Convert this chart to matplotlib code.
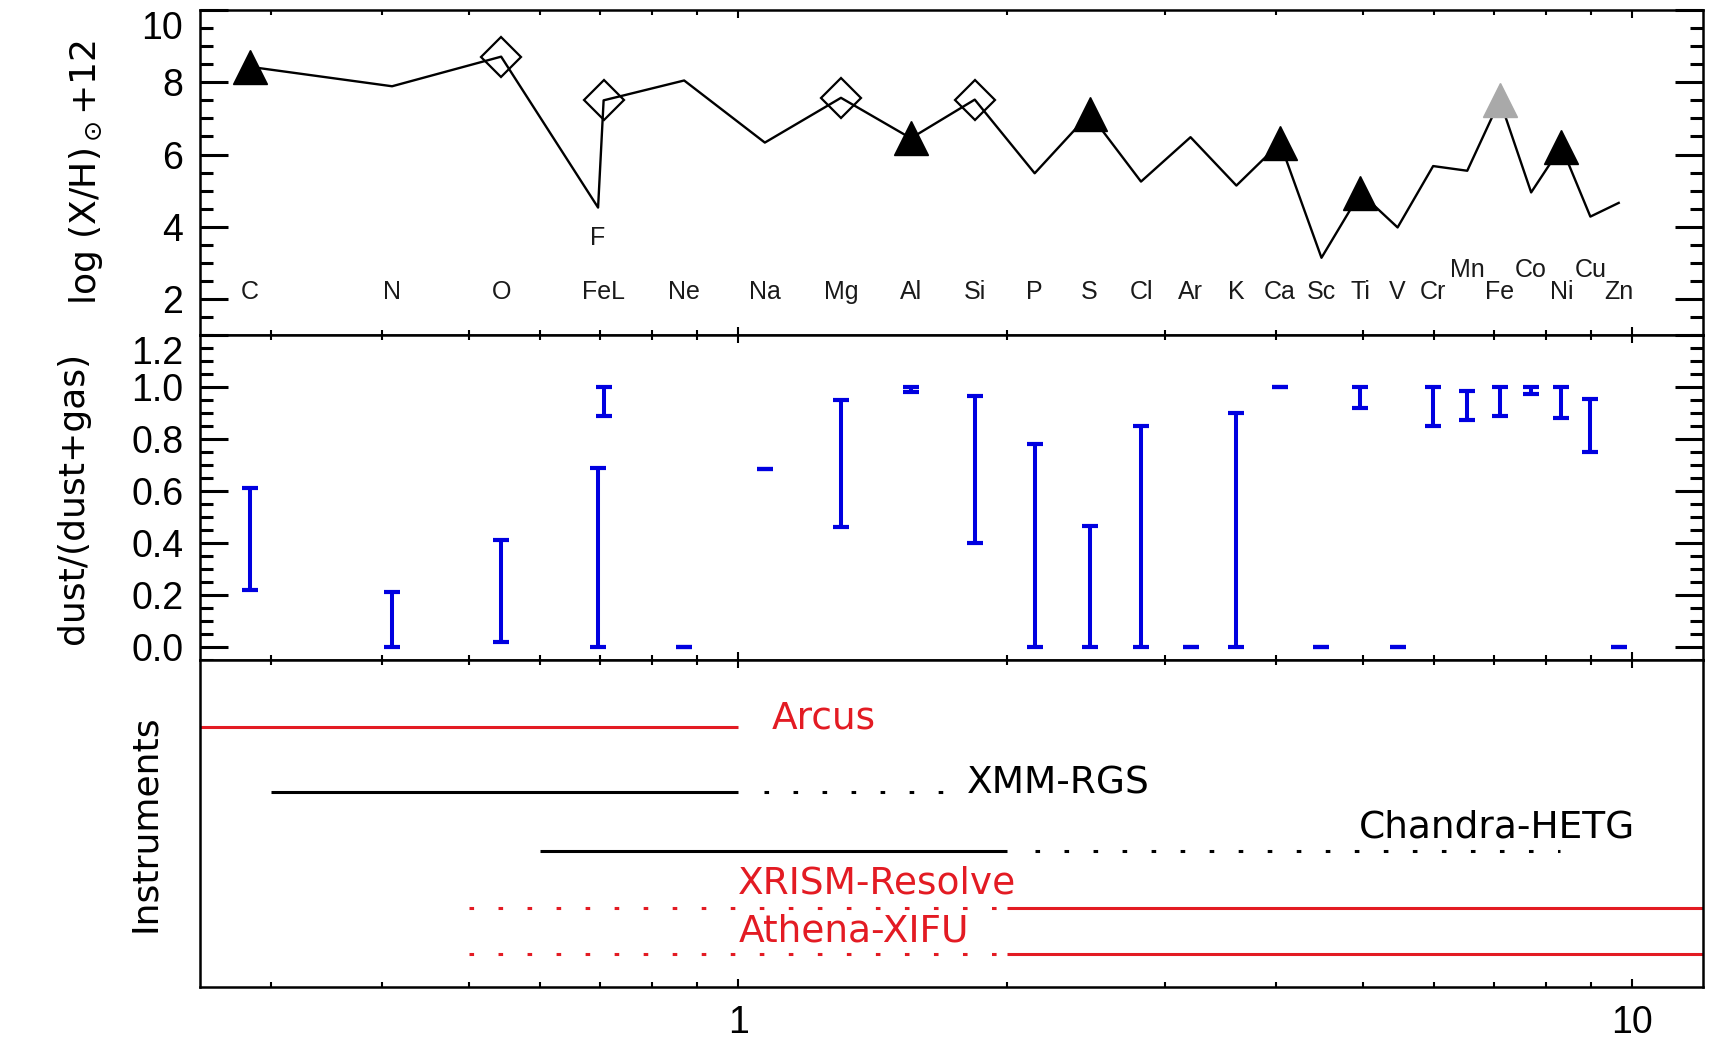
import matplotlib
matplotlib.use('Agg')
import matplotlib.pyplot as plt
import matplotlib.transforms as mtransforms
from matplotlib.ticker import (LogLocator, MultipleLocator, NullFormatter,
                               FuncFormatter, NullLocator, FormatStrFormatter)

# absorption edges (keV), solar abundances and dust depletion ranges
elements = ['C', 'N', 'O', 'F', 'FeL', 'Ne', 'Na', 'Mg', 'Al', 'Si', 'P', 'S', 'Cl',
            'Ar', 'K', 'Ca', 'Sc', 'Ti', 'V', 'Cr', 'Mn', 'Fe', 'Co', 'Ni', 'Cu', 'Zn']
energy = [0.284, 0.410, 0.543, 0.697, 0.707, 0.870, 1.071, 1.303, 1.560, 1.839,
          2.146, 2.472, 2.822, 3.206, 3.608, 4.038, 4.492, 4.966, 5.465, 5.989,
          6.539, 7.112, 7.709, 8.333, 8.979, 9.659]
abund = [8.43, 7.89, 8.71, 4.53, 7.50, 8.05, 6.33, 7.57, 6.45, 7.52, 5.48, 7.13, 5.25,
         6.48, 5.14, 6.32, 3.14, 4.94, 3.98, 5.68, 5.55, 7.50, 4.95, 6.22, 4.28, 4.66]
depl_lo = [0.22, 0.0, 0.02, 0.0, 0.89, 0.0, 0.685, 0.46, 0.98, 0.40, 0.0, 0.0, 0.0,
           0.0, 0.0, 1.0, 0.0, 0.92, 0.0, 0.85, 0.875, 0.89, 0.975, 0.88, 0.75, 0.0]
depl_hi = [0.61, 0.21, 0.41, 0.69, 1.0, 0.0, 0.685, 0.95, 1.0, 0.965, 0.78, 0.465, 0.85,
           0.0, 0.90, 1.0, 0.0, 1.0, 0.0, 1.0, 0.985, 1.0, 1.0, 1.0, 0.955, 0.0]

filled_tri = ['C', 'Al', 'S', 'Ca', 'Ti', 'Ni']
gray_tri = ['Fe']
open_diam = ['O', 'FeL', 'Mg', 'Si']
raised_labels = ['Mn', 'Co', 'Cu']

# instrument coverage (keV)
instruments = ['Arcus', 'XMM-RGS', 'Chandra-HETG', 'XRISM-Resolve', 'Athena-XIFU']
inst_solid = [(0.25, 1.0), (0.30, 1.0), (0.60, 2.0), (2.0, 12.0), (2.0, 12.0)]
inst_dotted = [None, (1.07, 1.72), (2.15, 8.3), (0.50, 1.95), (0.50, 1.95)]
inst_color = ['#e31b23', 'black', 'black', '#e31b23', '#e31b23']

# layout of the instrument panel (axes fraction / keV)
inst_row_y = [0.795, 0.596, 0.416, 0.242, 0.101]
inst_text_x = [1.09, 1.80, 4.95, 1.0, 1.0]
inst_text_y = [0.792, 0.593, 0.456, 0.287, 0.138]

plt.rcParams['font.family'] = ['Liberation Sans', 'DejaVu Sans']
plt.rcParams['axes.linewidth'] = 1.8

fig = plt.figure(figsize=(17.11, 10.49), dpi=100)
ax1 = fig.add_axes([0.1169, 0.6806, 0.8784, 0.3098])
ax2 = fig.add_axes([0.1169, 0.3708, 0.8784, 0.3098])
ax3 = fig.add_axes([0.1169, 0.0591, 0.8784, 0.3117])

idx = {e: i for i, e in enumerate(elements)}

# abundances
ax1.plot(energy, abund, color='black', lw=1.7, zorder=2)
for names, style in ((filled_tri, dict(marker='^', ms=24, color='black')),
                     (gray_tri, dict(marker='^', ms=24, color='#a9a9a9')),
                     (open_diam, dict(marker='D', ms=20, mfc='none', mec='black', mew=1.6))):
    ax1.plot([energy[idx[n]] for n in names], [abund[idx[n]] for n in names],
             ls='none', zorder=3, **style)

for e, x in zip(elements, energy):
    if e == 'F':
        y = 3.5
    elif e in raised_labels:
        y = 2.6
    else:
        y = 2.0
    ax1.text(x, y, e, ha='center', va='baseline', fontsize=18, color='#1a1a1a')

# depletion ranges
mid = [(a + b) / 2 for a, b in zip(depl_lo, depl_hi)]
err = [[m - a for m, a in zip(mid, depl_lo)], [b - m for m, b in zip(mid, depl_hi)]]
ax2.errorbar(energy, mid, yerr=err, fmt='none', ecolor='#0000e0', elinewidth=2.9,
             capsize=5.5, capthick=3)

# instrument bands
for name, solid, dotted, col, ry, tx, ty in zip(instruments, inst_solid, inst_dotted,
                                                inst_color, inst_row_y, inst_text_x,
                                                inst_text_y):
    ax3.plot(solid, [ry, ry], color=col, lw=2.2, solid_capstyle='butt')
    if dotted is not None:
        ax3.plot(dotted, [ry, ry], color=col, lw=2.2, ls=(0, (1.5, 8.0)))
    ax3.text(tx, ty, name, color=col, fontsize=27, family='DejaVu Sans',
             ha='left', va='baseline')

for ax in (ax1, ax2, ax3):
    ax.set_xscale('log')
    ax.set_xlim(0.25, 12.0)
    ax.xaxis.set_major_locator(LogLocator(base=10))
    ax.xaxis.set_minor_locator(LogLocator(base=10, subs=range(2, 10)))
    ax.xaxis.set_minor_formatter(NullFormatter())
    ax.tick_params(axis='x', which='major', direction='in', length=6, width=1.5,
                   top=True, bottom=True)
    ax.tick_params(axis='x', which='minor', direction='in', length=3.5, width=1.5,
                   top=True, bottom=True)

ax1.tick_params(axis='x', labelbottom=False)
ax2.tick_params(axis='x', labelbottom=False)
ax3.xaxis.set_major_formatter(FuncFormatter(lambda v, p: '%g' % v))
ax3.tick_params(axis='x', which='major', labelsize=27, pad=13)

ax1.set_ylim(1, 10)
ax1.yaxis.set_major_locator(MultipleLocator(2))
ax1.yaxis.set_minor_locator(MultipleLocator(0.5))
ax1.yaxis.set_major_formatter(FormatStrFormatter('%d'))

ax2.set_ylim(-0.05, 1.2)
ax2.yaxis.set_major_locator(MultipleLocator(0.2))
ax2.yaxis.set_minor_locator(MultipleLocator(0.05))
ax2.yaxis.set_major_formatter(FormatStrFormatter('%.1f'))

for ax in (ax1, ax2):
    ax.tick_params(axis='y', which='major', direction='in', length=20, width=2.2,
                   left=True, right=True, labelsize=27, pad=12)
    ax.tick_params(axis='y', which='minor', direction='in', length=9.5, width=2.2,
                   left=True, right=True)

ax3.set_ylim(0, 1)
ax3.yaxis.set_major_locator(NullLocator())
ax3.yaxis.set_minor_locator(NullLocator())

ax1.set_ylabel(r'log (X/H)$_\odot$+12', fontsize=26, family='DejaVu Sans')
ax2.set_ylabel('dust/(dust+gas)', fontsize=26, family='DejaVu Sans')
ax3.set_ylabel('Instruments', fontsize=26, family='DejaVu Sans')
ax1.yaxis.set_label_coords(-0.063, 0.5)
ax2.yaxis.set_label_coords(-0.0732, 0.5)
ax3.yaxis.set_label_coords(-0.0256, 0.5)

# keep the topmost tick labels inside their panels
shift = mtransforms.ScaledTranslation(0, -0.15, fig.dpi_scale_trans)
for ax, top in ((ax1, '10'), (ax2, '1.2')):
    for lbl in ax.get_yticklabels():
        if lbl.get_text() == top:
            lbl.set_transform(lbl.get_transform() + shift)

fig.savefig('out.png', dpi=100)
